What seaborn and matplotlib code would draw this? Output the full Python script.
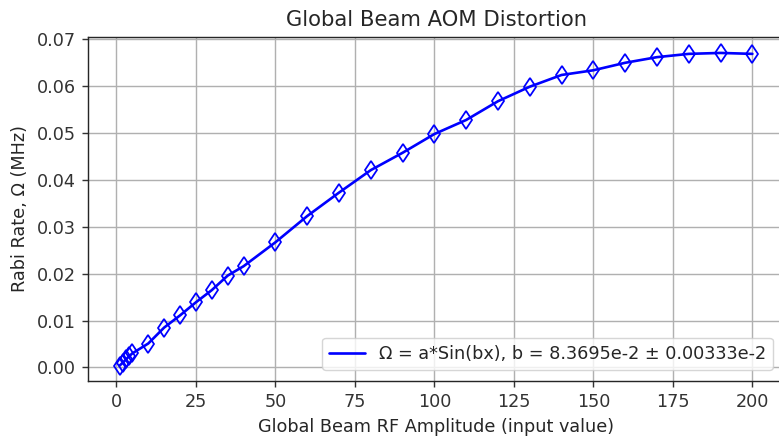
import matplotlib
matplotlib.use("Agg")
import matplotlib.pyplot as plt
import seaborn as sns
import pandas as pd

# RF amplitude settings (input value) and measured Rabi rates (MHz)
amplitude = [1, 2, 3, 4, 5, 10, 15, 20, 25, 30, 35, 40, 50, 60, 70, 80,
             90, 100, 110, 120, 130, 140, 150, 160, 170, 180, 190, 200]
rabi_rate = [0.0004, 0.0010, 0.0017, 0.0024, 0.0030, 0.0051, 0.0085, 0.0111,
             0.0139, 0.0165, 0.0196, 0.0216, 0.0267, 0.0323, 0.0373, 0.0421,
             0.0458, 0.0498, 0.0528, 0.0568, 0.0599, 0.0624, 0.0634, 0.0650,
             0.0662, 0.0669, 0.0671, 0.0669]

fit_label = "Ω = a*Sin(bx), b = 8.3695e-2 ± 0.00333e-2"
title = "Global Beam AOM Distortion"
xlabel = "Global Beam RF Amplitude (input value)"
ylabel = "Rabi Rate, Ω (MHz)"

df = pd.DataFrame({"amp": amplitude, "rate": rabi_rate})

sns.set_theme(style="ticks")
plt.rcParams["font.family"] = ["DejaVu Sans"]

S = 1.27  # overall scale of text and strokes

fig = plt.figure(figsize=(7.79, 4.36), dpi=100)
ax = fig.add_axes([88 / 779, 55 / 436, (784 - 88) / 779, (381 - 37) / 436])

# fitted curve
sns.lineplot(data=df, x="amp", y="rate", ax=ax, color="#0000ff",
             linewidth=1.5 * S, label=fit_label)
# measured points
sns.lineplot(data=df, x="amp", y="rate", ax=ax, linestyle="none",
             marker="d", markersize=9.5, markerfacecolor="none",
             markeredgecolor="#0000ff", markeredgewidth=1.0 * S, legend=False)

ax.set_xticks([0, 25, 50, 75, 100, 125, 150, 175, 200])
ax.set_yticks([0.00, 0.01, 0.02, 0.03, 0.04, 0.05, 0.06, 0.07])
ax.set_xlim(-8.95, 209.95)
ax.set_ylim(-0.0029, 0.0705)
ax.grid(True, color="#b0b0b0", linewidth=0.8 * S)
ax.tick_params(labelsize=10 * S, direction="out", length=3.5 * S,
               width=0.8 * S, colors="#333333", pad=3.5 * S)
for sp in ax.spines.values():
    sp.set_color("#262626")
    sp.set_linewidth(0.8 * S)

ax.set_title(title, fontsize=12 * S, color="#262626", pad=6 * S)
ax.set_xlabel(xlabel, fontsize=10 * S, color="#262626", labelpad=4 * S)
ax.set_ylabel(ylabel, fontsize=10 * S, color="#262626", labelpad=4 * S)

leg = ax.legend(loc="lower right", fontsize=10 * S, frameon=True,
                borderaxespad=0.5 * S)
leg.get_frame().set_edgecolor("#cccccc")
leg.get_frame().set_linewidth(0.8 * S)

fig.savefig("out.png", dpi=100)
